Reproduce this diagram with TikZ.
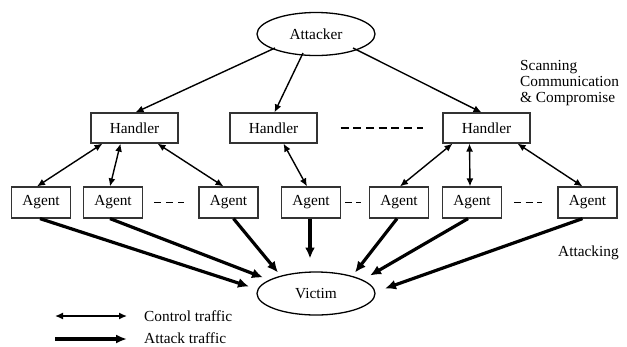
\documentclass[tikz,border=0pt]{standalone}
\usepackage{fontspec}
\setmainfont{Liberation Serif}
\usetikzlibrary{arrows.meta,shapes.geometric}

\begin{document}
\begin{tikzpicture}[x=1bp,y=-1bp,
        font=\fontsize{15.4pt}{16pt}\selectfont,
        oval/.style={ellipse,draw,line width=1.3bp,minimum width=118bp,minimum height=43bp,inner sep=0pt},
        hbox/.style={rectangle,draw=black!80,line width=1.2bp,minimum width=87bp,minimum height=30bp,inner sep=0pt},
        abox/.style={rectangle,draw=black!80,line width=1.2bp,minimum width=59bp,minimum height=31bp,inner sep=0pt},
        ctrl/.style={line width=1.4bp,-{Latex[length=8bp,width=7bp]}},
        both/.style={line width=1.4bp,{Latex[length=8bp,width=7bp]}-{Latex[length=8bp,width=7bp]}},
        atk/.style={line width=3.2bp,-{Latex[length=11bp,width=10bp]}},
        gap/.style={line width=1.8bp,dash pattern=on 7bp off 5bp}]
        \useasboundingbox (0,0) rectangle (627,346);

        \node [oval] (attacker) at (316, 34) {Attacker};
        \node [hbox] (h1) at (134.5, 128) {Handler};
        \node [hbox] (h2) at (273.5, 128) {Handler};
        \node [hbox] (h3) at (486.5, 128) {Handler};

        \node [abox] (a1) at (41, 202.5) {Agent};
        \node [abox] (a2) at (113, 202.5) {Agent};
        \node [abox] (a3) at (228.5, 202.5) {Agent};
        \node [abox] (a4) at (311, 202.5) {Agent};
        \node [abox] (a5) at (399, 202.5) {Agent};
        \node [abox] (a6) at (472, 202.5) {Agent};
        \node [abox] (a7) at (587.5, 202.5) {Agent};

        \node [oval] (victim) at (316, 293.5) {Victim};

        \node [anchor=west,align=left,inner sep=0pt] (phase1) at (520, 83) {Scanning\\Communication\\\&~Compromise};
        \node [anchor=west,inner sep=0pt] (phase2) at (558, 253) {Attacking};

        % attacker to handlers
        \draw[ctrl] ([shift={(-41,14)}]attacker.center) to ([xshift=1bp]h1.north);
        \draw[ctrl] ([shift={(-13,19)}]attacker.center) to ([xshift=1bp]h2.north);
        \draw[ctrl] ([shift={(37,14)}]attacker.center) to ([xshift=-5bp]h3.north);

        % handlers and agents
        \draw[both] ([xshift=-32bp]h1.south) to ([xshift=-4bp]a1.north);
        \draw[both] ([xshift=-14bp]h1.south) to ([xshift=-3bp]a2.north);
        \draw[both] ([xshift=23bp]h1.south) to ([xshift=-5bp]a3.north);
        \draw[both] ([xshift=10bp]h2.south) to ([xshift=-4bp]a4.north);
        \draw[both] ([xshift=-34bp]h3.south) to ([xshift=1bp]a5.north);
        \draw[both] ([xshift=-17bp]h3.south) to ([xshift=-2bp]a6.north);
        \draw[both] ([xshift=31bp]h3.south) to ([xshift=-5bp]a7.north);

        % agents to victim
        \draw[atk] ([xshift=-1bp]a1.south) to ([shift={(-67,-7)}]victim.center);
        \draw[atk] ([xshift=-3bp]a2.south) to ([shift={(-53,-16)}]victim.center);
        \draw[atk] ([xshift=5bp]a3.south) to ([shift={(-38,-21)}]victim.center);
        \draw[atk] ([xshift=-1bp]a4.south) to ([shift={(-6,-35)}]victim.center);
        \draw[atk] ([xshift=-2bp]a5.south) to ([shift={(39,-21)}]victim.center);
        \draw[atk] ([xshift=-4bp]a6.south) to ([shift={(54,-18)}]victim.center);
        \draw[atk] ([xshift=-5bp]a7.south) to ([shift={(69,-5)}]victim.center);

        % dashes between boxes
        \draw[gap,dash pattern=on 8bp off 4.7bp] ([xshift=23bp]h2.east) to ([xshift=-19bp]h3.west);
        \draw[gap] ([xshift=11bp]a2.east) to ([xshift=-14bp]a3.west);
        \draw[gap,dash pattern=on 7bp off 4bp] ([xshift=4bp]a4.east) to ([xshift=-8bp]a5.west);
        \draw[gap,dash pattern=on 7bp off 4.5bp] ([xshift=12bp]a6.east) to ([xshift=-15bp]a7.west);

        % legend
        \coordinate (l1) at (55, 316);
        \coordinate (l2) at (127, 316);
        \coordinate (l3) at (55, 339);
        \coordinate (l4) at (127, 339);
        \draw[both] (l1) to (l2);
        \draw[atk,-{Latex[length=11bp,width=9bp]}] (l3) to (l4);
        \node [anchor=west,inner sep=0pt] (lctrl) at (144, 316) {Control traffic};
        \node [anchor=west,inner sep=0pt] (latk) at (144, 338) {Attack traffic};
        \end{tikzpicture}
\end{document}
